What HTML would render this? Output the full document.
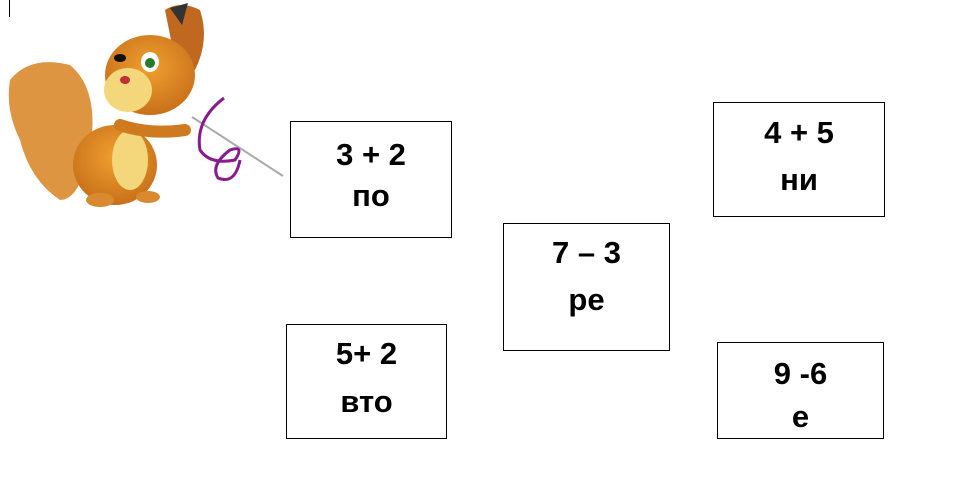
<!DOCTYPE html>
<html><head><meta charset="utf-8"><style>
body{margin:0;width:976px;height:496px;background:#fff;position:relative;overflow:hidden;font-family:"Liberation Sans",sans-serif}
.b{position:absolute;border:1px solid #000;box-sizing:border-box;background:#fff}
.t{position:absolute;left:0;right:0;text-align:center;font-weight:bold;font-size:31px;line-height:32px;color:#000}
</style></head><body>
<div style="position:absolute;left:9px;top:0;width:1px;height:17px;background:#000"></div>
<svg style="position:absolute;left:0;top:0" width="300" height="220">
<defs><radialGradient id="f" cx="50%" cy="40%" r="60%"><stop offset="0" stop-color="#f0a030"/><stop offset="1" stop-color="#c8701a"/></radialGradient></defs>
<path d="M10,80 Q30,55 70,65 Q100,90 90,150 Q80,200 60,200 Q30,180 20,140 Q5,110 10,80Z" fill="#d98a2e" opacity="0.9"/>
<ellipse cx="115" cy="165" rx="42" ry="40" fill="url(#f)"/>
<ellipse cx="130" cy="160" rx="18" ry="30" fill="#f3d77a"/>
<path d="M165,10 Q180,0 200,10 Q210,40 195,70 L175,60Z" fill="#c06820"/>
<path d="M170,8 L188,3 L182,25Z" fill="#333"/>
<ellipse cx="150" cy="75" rx="45" ry="40" fill="url(#f)"/>
<ellipse cx="128" cy="90" rx="24" ry="22" fill="#f3d77a"/>
<ellipse cx="150" cy="62" rx="9" ry="10" fill="#fff"/><circle cx="150" cy="63" r="5" fill="#2a7a2a"/>
<ellipse cx="120" cy="58" rx="6" ry="4" fill="#111"/>
<ellipse cx="125" cy="80" rx="5" ry="4" fill="#c0303a"/>
<path d="M120,125 Q150,135 185,130" stroke="#d07a20" stroke-width="12" fill="none" stroke-linecap="round"/>
<ellipse cx="100" cy="200" rx="14" ry="7" fill="#d98a2e"/><ellipse cx="148" cy="197" rx="12" ry="6" fill="#d98a2e"/>
<line x1="192" y1="117" x2="283" y2="176" stroke="#aaa" stroke-width="2"/>
<path d="M224,98 Q195,120 200,150 Q210,165 235,160 Q245,145 230,150 Q210,165 218,178 Q235,185 240,160" stroke="#8a1a90" stroke-width="3" fill="none"/>
</svg>
<div class="b" style="left:290px;top:121px;width:162px;height:117px"><div class="t" style="top:17px">3 + 2</div><div class="t" style="top:58px">по</div></div>
<div class="b" style="left:713px;top:102px;width:172px;height:115px"><div class="t" style="top:14px">4 + 5</div><div class="t" style="top:61px">ни</div></div>
<div class="b" style="left:503px;top:223px;width:167px;height:128px"><div class="t" style="top:13px">7 – 3</div><div class="t" style="top:60px">ре</div></div>
<div class="b" style="left:286px;top:324px;width:161px;height:115px"><div class="t" style="top:13px">5+ 2</div><div class="t" style="top:61px">вто</div></div>
<div class="b" style="left:717px;top:342px;width:167px;height:97px"><div class="t" style="top:15px">9 -6</div><div class="t" style="top:58px">е</div></div>
</body></html>
